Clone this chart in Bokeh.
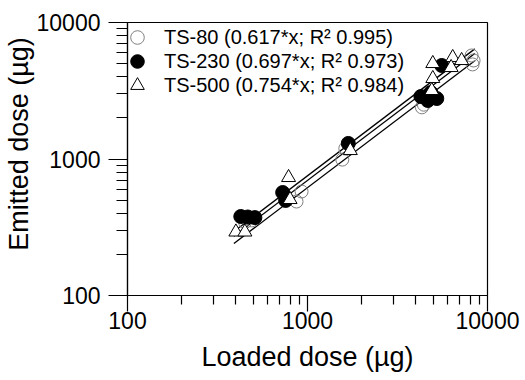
from bokeh.plotting import figure
from bokeh.models import FixedTicker, BasicTickFormatter, Legend, LegendItem
from bokeh.embed import file_html
from bokeh.resources import INLINE

# ---- data ----
ts80_loaded = [450, 490, 869, 927, 1561, 1622, 4320, 4430, 8160, 8370, 8260]
ts80_emitted = [345, 355, 488, 578, 990, 1194, 2390, 2500, 5730, 5270, 4930]

ts230_loaded = [426, 466, 510, 728, 756, 1685, 4266, 4661, 5226, 4842, 5568]
ts230_emitted = [379, 376, 372, 568, 497, 1300, 2870, 2683, 2774, 3070, 4842]

ts500_loaded = [400, 449, 785, 800, 1729, 4967, 4903, 4967, 6408, 7181, 6280]
ts500_emitted = [292, 292, 732, 505, 1154, 3888, 3176, 5007, 5540, 5268, 4680]

slopes = [0.617, 0.697, 0.754]
r2 = [0.995, 0.973, 0.984]
names = ["TS-80", "TS-230", "TS-500"]
fit_range = [390, 8500]

major_ticks = [100, 1000, 10000]
minor_ticks = [200, 300, 400, 500, 600, 700, 800, 900,
               2000, 3000, 4000, 5000, 6000, 7000, 8000, 9000]

FONT = "Liberation Sans"

p = figure(width=525, height=380, x_axis_type="log", y_axis_type="log",
           x_range=(100, 10000), y_range=(100, 10000),
           output_backend="svg", toolbar_location=None,
           min_border_left=126, min_border_right=38,
           min_border_top=22, min_border_bottom=85)
p.background_fill_color = "white"
p.border_fill_color = "white"
p.outline_line_color = "black"
p.outline_line_width = 1.2
p.xgrid.visible = False
p.ygrid.visible = False

# fit lines
for s in slopes:
    p.line(fit_range, [s * v for v in fit_range], line_color="black", line_width=1.3)

r_open = p.scatter(ts80_loaded, ts80_emitted, marker="circle", size=13,
                   fill_alpha=0, line_color="#808080", line_width=1)
r_fill = p.scatter(ts230_loaded, ts230_emitted, marker="circle", size=14,
                   fill_color="black", line_color="black")
r_tri = p.scatter(ts500_loaded, ts500_emitted, marker="triangle", size=14,
                  fill_color="white", line_color="black", line_width=1)

labels = [f"{n} ({s:.3f}*x; R\u00b2 {r:.3f})" for n, s, r in zip(names, slopes, r2)]
renderers = [r_open, r_fill, r_tri]
legend_y = [241, 217, 193]
for lab, rend, ly in zip(labels, renderers, legend_y):
    lg = Legend(items=[LegendItem(label=lab, renderers=[rend])], location=(-7, ly))
    lg.glyph_width = 34
    lg.glyph_height = 34
    lg.padding = 0
    lg.margin = 0
    lg.label_standoff = 10
    lg.label_text_font = FONT
    lg.label_text_font_size = "20px"
    lg.label_text_color = "black"
    lg.background_fill_alpha = 0
    lg.border_line_alpha = 0
    p.add_layout(lg, "center")

for ax in (p.xaxis[0], p.yaxis[0]):
    ax.ticker = FixedTicker(ticks=major_ticks, minor_ticks=minor_ticks)
    ax.formatter = BasicTickFormatter(use_scientific=False)
    ax.axis_line_color = "black"
    ax.axis_line_width = 1.2
    ax.major_tick_line_color = "black"
    ax.minor_tick_line_color = "black"
    ax.major_tick_line_width = 1.2
    ax.minor_tick_line_width = 1.2
    ax.major_tick_in = 0
    ax.minor_tick_in = 0
    ax.major_label_text_font = FONT
    ax.major_label_text_font_size = "23px"
    ax.major_label_text_color = "black"
    ax.axis_label_text_font = FONT
    ax.axis_label_text_font_size = "27px"
    ax.axis_label_text_font_style = "normal"
    ax.axis_label_text_color = "black"

p.xaxis[0].axis_label = "Loaded dose (\u00b5g)"
p.yaxis[0].axis_label = "\u00a0\u00a0\u00a0\u00a0Emitted dose (\u00b5g)"
p.xaxis[0].major_tick_out = 16
p.xaxis[0].minor_tick_out = 9
p.xaxis[0].major_label_standoff = 0
p.xaxis[0].axis_label_standoff = 10
p.yaxis[0].major_tick_out = 19
p.yaxis[0].minor_tick_out = 11
p.yaxis[0].major_label_standoff = 8
p.yaxis[0].axis_label_standoff = 0

open("out.html", "w").write(file_html(p, INLINE))
